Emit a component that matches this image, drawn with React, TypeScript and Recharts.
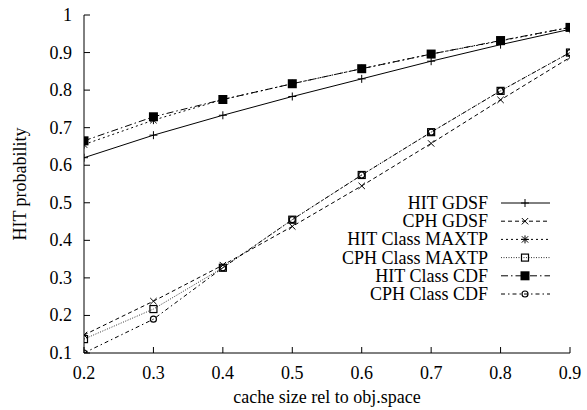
import React from 'react';
import { LineChart, Line, XAxis, YAxis, Legend } from 'recharts';

const cacheSizes = [0.2, 0.3, 0.4, 0.5, 0.6, 0.7, 0.8, 0.9];
const hitGdsf = [0.62, 0.68, 0.733, 0.783, 0.83, 0.877, 0.921, 0.962];
const cphGdsf = [0.148, 0.238, 0.334, 0.437, 0.545, 0.658, 0.774, 0.887];
const hitMaxtp = [0.655, 0.72, 0.775, 0.817, 0.857, 0.896, 0.931, 0.967];
const cphMaxtp = [0.137, 0.217, 0.327, 0.455, 0.574, 0.688, 0.798, 0.9];
const hitCdf = [0.665, 0.729, 0.775, 0.817, 0.857, 0.896, 0.932, 0.967];
const cphCdf = [0.1, 0.19, 0.327, 0.455, 0.574, 0.688, 0.798, 0.9];

const xTicks = [0.2, 0.3, 0.4, 0.5, 0.6, 0.7, 0.8, 0.9];
const yTicks = [0.1, 0.2, 0.3, 0.4, 0.5, 0.6, 0.7, 0.8, 0.9, 1];
const yTickLabels = ['0.1', '0.2', '0.3', '0.4', '0.5', '0.6', '0.7', '0.8', '0.9', '1'];

const FONT = '"Liberation Serif", "Times New Roman", serif';

type MarkerKind = 'plus' | 'cross' | 'star' | 'openSquare' | 'filledSquare' | 'openCircle';

const series: { key: string; name: string; dash?: string; marker: MarkerKind; color: string; values: number[] }[] = [
  { key: 'hitGdsf', name: 'HIT GDSF', dash: undefined, marker: 'plus', color: '#000', values: hitGdsf },
  { key: 'cphGdsf', name: 'CPH GDSF', dash: '4 3', marker: 'cross', color: '#000', values: cphGdsf },
  { key: 'hitMaxtp', name: 'HIT Class MAXTP', dash: '2 3', marker: 'star', color: '#000', values: hitMaxtp },
  { key: 'cphMaxtp', name: 'CPH Class MAXTP', dash: '1 1.5', marker: 'openSquare', color: '#333', values: cphMaxtp },
  { key: 'hitCdf', name: 'HIT Class CDF', dash: '7 3 1.5 3', marker: 'filledSquare', color: '#000', values: hitCdf },
  { key: 'cphCdf', name: 'CPH Class CDF', dash: '4 3 1.5 3', marker: 'openCircle', color: '#000', values: cphCdf },
];

const data = cacheSizes.map((x, i) => {
  const row: Record<string, number> = { x };
  series.forEach((s) => {
    row[s.key] = s.values[i];
  });
  return row;
});

function Marker({ kind, cx, cy }: { kind: MarkerKind; cx: number; cy: number }) {
  const s = 4;
  const d = 3.2;
  switch (kind) {
    case 'plus':
      return (
        <g stroke="#000" strokeWidth={1}>
          <line x1={cx - s} x2={cx + s} y1={cy} y2={cy} />
          <line x1={cx} x2={cx} y1={cy - s} y2={cy + s} />
        </g>
      );
    case 'cross':
      return (
        <g stroke="#000" strokeWidth={1}>
          <line x1={cx - d} x2={cx + d} y1={cy - d} y2={cy + d} />
          <line x1={cx - d} x2={cx + d} y1={cy + d} y2={cy - d} />
        </g>
      );
    case 'star':
      return (
        <g stroke="#000" strokeWidth={1}>
          <line x1={cx - s} x2={cx + s} y1={cy} y2={cy} />
          <line x1={cx} x2={cx} y1={cy - s} y2={cy + s} />
          <line x1={cx - d} x2={cx + d} y1={cy - d} y2={cy + d} />
          <line x1={cx - d} x2={cx + d} y1={cy + d} y2={cy - d} />
        </g>
      );
    case 'openSquare':
      return <rect x={cx - 3.5} y={cy - 3.5} width={7} height={7} fill="none" stroke="#000" strokeWidth={1.2} />;
    case 'filledSquare':
      return <rect x={cx - 4.5} y={cy - 4.5} width={9} height={9} fill="#000" stroke="none" />;
    case 'openCircle':
    default:
      return <circle cx={cx} cy={cy} r={3} fill="none" stroke="#000" strokeWidth={1.2} />;
  }
}

const makeDot = (kind: MarkerKind) => (props: any) => {
  const { cx, cy, index } = props;
  if (cx == null || cy == null) return <g key={`d-${index}`} />;
  return (
    <g key={`d-${kind}-${index}`}>
      <Marker kind={kind} cx={cx} cy={cy} />
    </g>
  );
};

const BottomTick = (props: any) => {
  const { x, y, payload } = props;
  return (
    <g>
      <line x1={x} x2={x} y1={y} y2={y - 6} stroke="#000" />
      <text x={x} y={y + 26} textAnchor="middle" fontSize={18} fontFamily={FONT} fill="#000">
        {payload.value.toFixed(1)}
      </text>
    </g>
  );
};

const TopTick = (props: any) => {
  const { x, y } = props;
  return <line x1={x} x2={x} y1={y} y2={y + 6} stroke="#000" />;
};

const LeftTick = (props: any) => {
  const { x, y, payload } = props;
  const idx = yTicks.findIndex((t) => Math.abs(t - payload.value) < 1e-6);
  return (
    <g>
      <line x1={x} x2={x + 6} y1={y} y2={y} stroke="#000" />
      <text x={x - 12} y={y + 6} textAnchor="end" fontSize={18} fontFamily={FONT} fill="#000">
        {idx >= 0 ? yTickLabels[idx] : String(payload.value)}
      </text>
    </g>
  );
};

const RightTick = (props: any) => {
  const { x, y } = props;
  return <line x1={x} x2={x - 6} y1={y} y2={y} stroke="#000" />;
};

const YLabel = (props: any) => {
  const vb = props.viewBox || {};
  const cy = (vb.y ?? 15) + (vb.height ?? 338) / 2;
  const cx = 26;
  return (
    <text
      x={cx}
      y={cy}
      transform={`rotate(-90, ${cx}, ${cy})`}
      textAnchor="middle"
      fontSize={18}
      fontFamily={FONT}
      fill="#000"
    >
      HIT probability
    </text>
  );
};

const XLabel = (props: any) => {
  const vb = props.viewBox || {};
  const cx = (vb.x ?? 84) + (vb.width ?? 486) / 2;
  return (
    <text x={cx} y={403} textAnchor="middle" fontSize={18} fontFamily={FONT} fill="#000">
      cache size rel to obj.space
    </text>
  );
};

const LegendBox = () => {
  const textRight = 108;
  const lineStart = 121;
  const lineEnd = 170;
  const mid = 145;
  return (
    <svg width={190} height={115} style={{ overflow: 'visible', display: 'block' }}>
      {series.map((s, i) => {
        const y = 13 + i * 18.2;
        return (
          <g key={s.key}>
            <text x={textRight} y={y + 6} textAnchor="end" fontSize={18} fontFamily={FONT} fill="#000">
              {s.name}
            </text>
            <line x1={lineStart} x2={lineEnd} y1={y} y2={y} stroke={s.color} strokeWidth={1} strokeDasharray={s.dash} />
            <Marker kind={s.marker} cx={mid} cy={y} />
          </g>
        );
      })}
    </svg>
  );
};

export default function App() {
  return (
    <div style={{ position: 'absolute', left: 0, top: 0, width: 587, height: 410, background: '#fff' }}>
      <LineChart width={587} height={410} data={data} margin={{ top: 15, right: 17, bottom: 0, left: 0 }}>
        <XAxis
          dataKey="x"
          type="number"
          domain={[0.2, 0.9]}
          ticks={xTicks}
          interval={0}
          height={57}
          tickSize={0}
          tickMargin={0}
          tickLine={false}
          axisLine={{ stroke: '#000' }}
          tick={<BottomTick />}
          label={<XLabel />}
          allowDataOverflow
        />
        <XAxis
          xAxisId="top"
          dataKey="x"
          type="number"
          orientation="top"
          domain={[0.2, 0.9]}
          ticks={xTicks}
          interval={0}
          height={0}
          tickSize={0}
          tickMargin={0}
          tickLine={false}
          axisLine={{ stroke: '#000' }}
          tick={<TopTick />}
          allowDataOverflow
        />
        <YAxis
          type="number"
          domain={[0.1, 1]}
          ticks={yTicks}
          interval={0}
          width={84}
          tickSize={0}
          tickMargin={0}
          tickLine={false}
          axisLine={{ stroke: '#000' }}
          tick={<LeftTick />}
          label={<YLabel />}
          allowDataOverflow
        />
        <YAxis
          yAxisId="right"
          type="number"
          orientation="right"
          domain={[0.1, 1]}
          ticks={yTicks}
          interval={0}
          width={0}
          tickSize={0}
          tickMargin={0}
          tickLine={false}
          axisLine={{ stroke: '#000' }}
          tick={<RightTick />}
          allowDataOverflow
        />
        <Legend
          layout="horizontal"
          verticalAlign="middle"
          align="center"
          content={() => <LegendBox />}
          wrapperStyle={{ position: 'absolute', left: 380, top: 190, width: 190, height: 115 }}
        />
        {series.map((s) => (
          <Line
            key={s.key}
            dataKey={s.key}
            name={s.name}
            type="linear"
            stroke={s.color}
            strokeWidth={1}
            strokeDasharray={s.dash}
            dot={makeDot(s.marker)}
            activeDot={false}
            isAnimationActive={false}
          />
        ))}
      </LineChart>
    </div>
  );
}
